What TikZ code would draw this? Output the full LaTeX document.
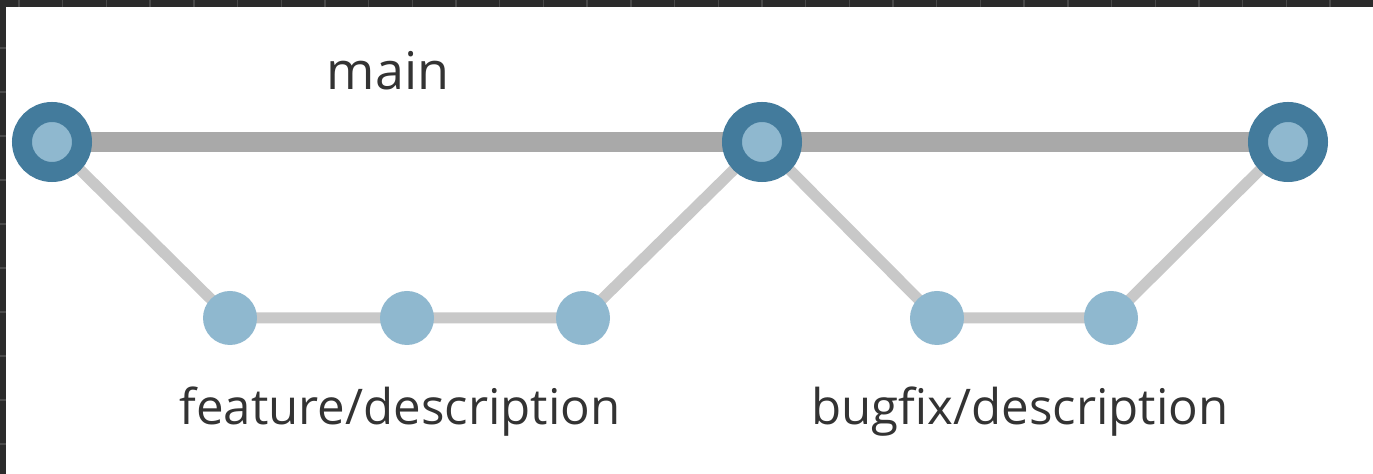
\documentclass[tikz,border=0pt]{standalone}
\usepackage{fontspec}
\setmainfont{Open Sans}
\definecolor{framedark}{HTML}{2B2B2B}
\definecolor{frametick}{HTML}{4A4A4A}
\definecolor{trunkgray}{HTML}{A9A9A9}
\definecolor{branchgray}{HTML}{C8C8C8}
\definecolor{ringblue}{HTML}{437B9C}
\definecolor{dotblue}{HTML}{8FB8CF}
\definecolor{textgray}{HTML}{333333}
\begin{document}
\begin{tikzpicture}[x=0.5pt,y=-0.5pt,
  trunk/.style={line width=10pt, draw=trunkgray},
  branch/.style={line width=5.5pt, draw=branchgray},
  mainnode/.style={circle, draw=ringblue, line width=10pt, fill=dotblue,
    minimum size=30pt, inner sep=0pt},
  commit/.style={circle, fill=dotblue, minimum size=27pt, inner sep=0pt},
  lbltext/.style={font=\fontsize{24.6}{30}\selectfont, text=textgray, anchor=base, inner sep=0pt}]
\useasboundingbox (0,0) rectangle (1373,474);
\fill[white] (0,0) rectangle (1373,474);
% window frame along the top and left edges
\fill[framedark] (0,0) rectangle (1373,7);
\fill[framedark] (0,0) rectangle (6,474);
\foreach \i in {0,...,31} {
  \fill[frametick] ({19+43.7*\i-0.7},0) rectangle ({19+43.7*\i+0.7},7);
}
\foreach \j in {0,...,9} {
  \fill[frametick] (0,{48+44*\j-0.7}) rectangle (6,{48+44*\j+0.7});
}
% commit positions
\coordinate (p1) at (52,142);
\coordinate (p2) at (762,142);
\coordinate (p3) at (1288,142);
\coordinate (f1) at (230,318);
\coordinate (f2) at (407,318);
\coordinate (f3) at (583,318);
\coordinate (b1) at (937,318);
\coordinate (b2) at (1111,318);
% branch connectors
\draw[branch, line join=round] (p1) -- (f1) -- (f2) -- (f3) -- (p2);
\draw[branch, line join=round] (p2) -- (b1) -- (b2) -- (p3);
% main trunk
\draw[trunk] (p1) -- (p2) -- (p3);
% commits
\node[mainnode] (m1) at (p1) {};
\node[mainnode] (m2) at (p2) {};
\node[mainnode] (m3) at (p3) {};
\node[commit] (c1) at (f1) {};
\node[commit] (c2) at (f2) {};
\node[commit] (c3) at (f3) {};
\node[commit] (c4) at (b1) {};
\node[commit] (c5) at (b2) {};
% branch names
\node[lbltext, font=\fontsize{26}{30}\selectfont] (tmain) at (388,90) {main};
\node[lbltext] (tfeat) at (400,425) {feature/description};
\node[lbltext] (tbug) at (1020,425) {bugfix/description};
\end{tikzpicture}
\end{document}
